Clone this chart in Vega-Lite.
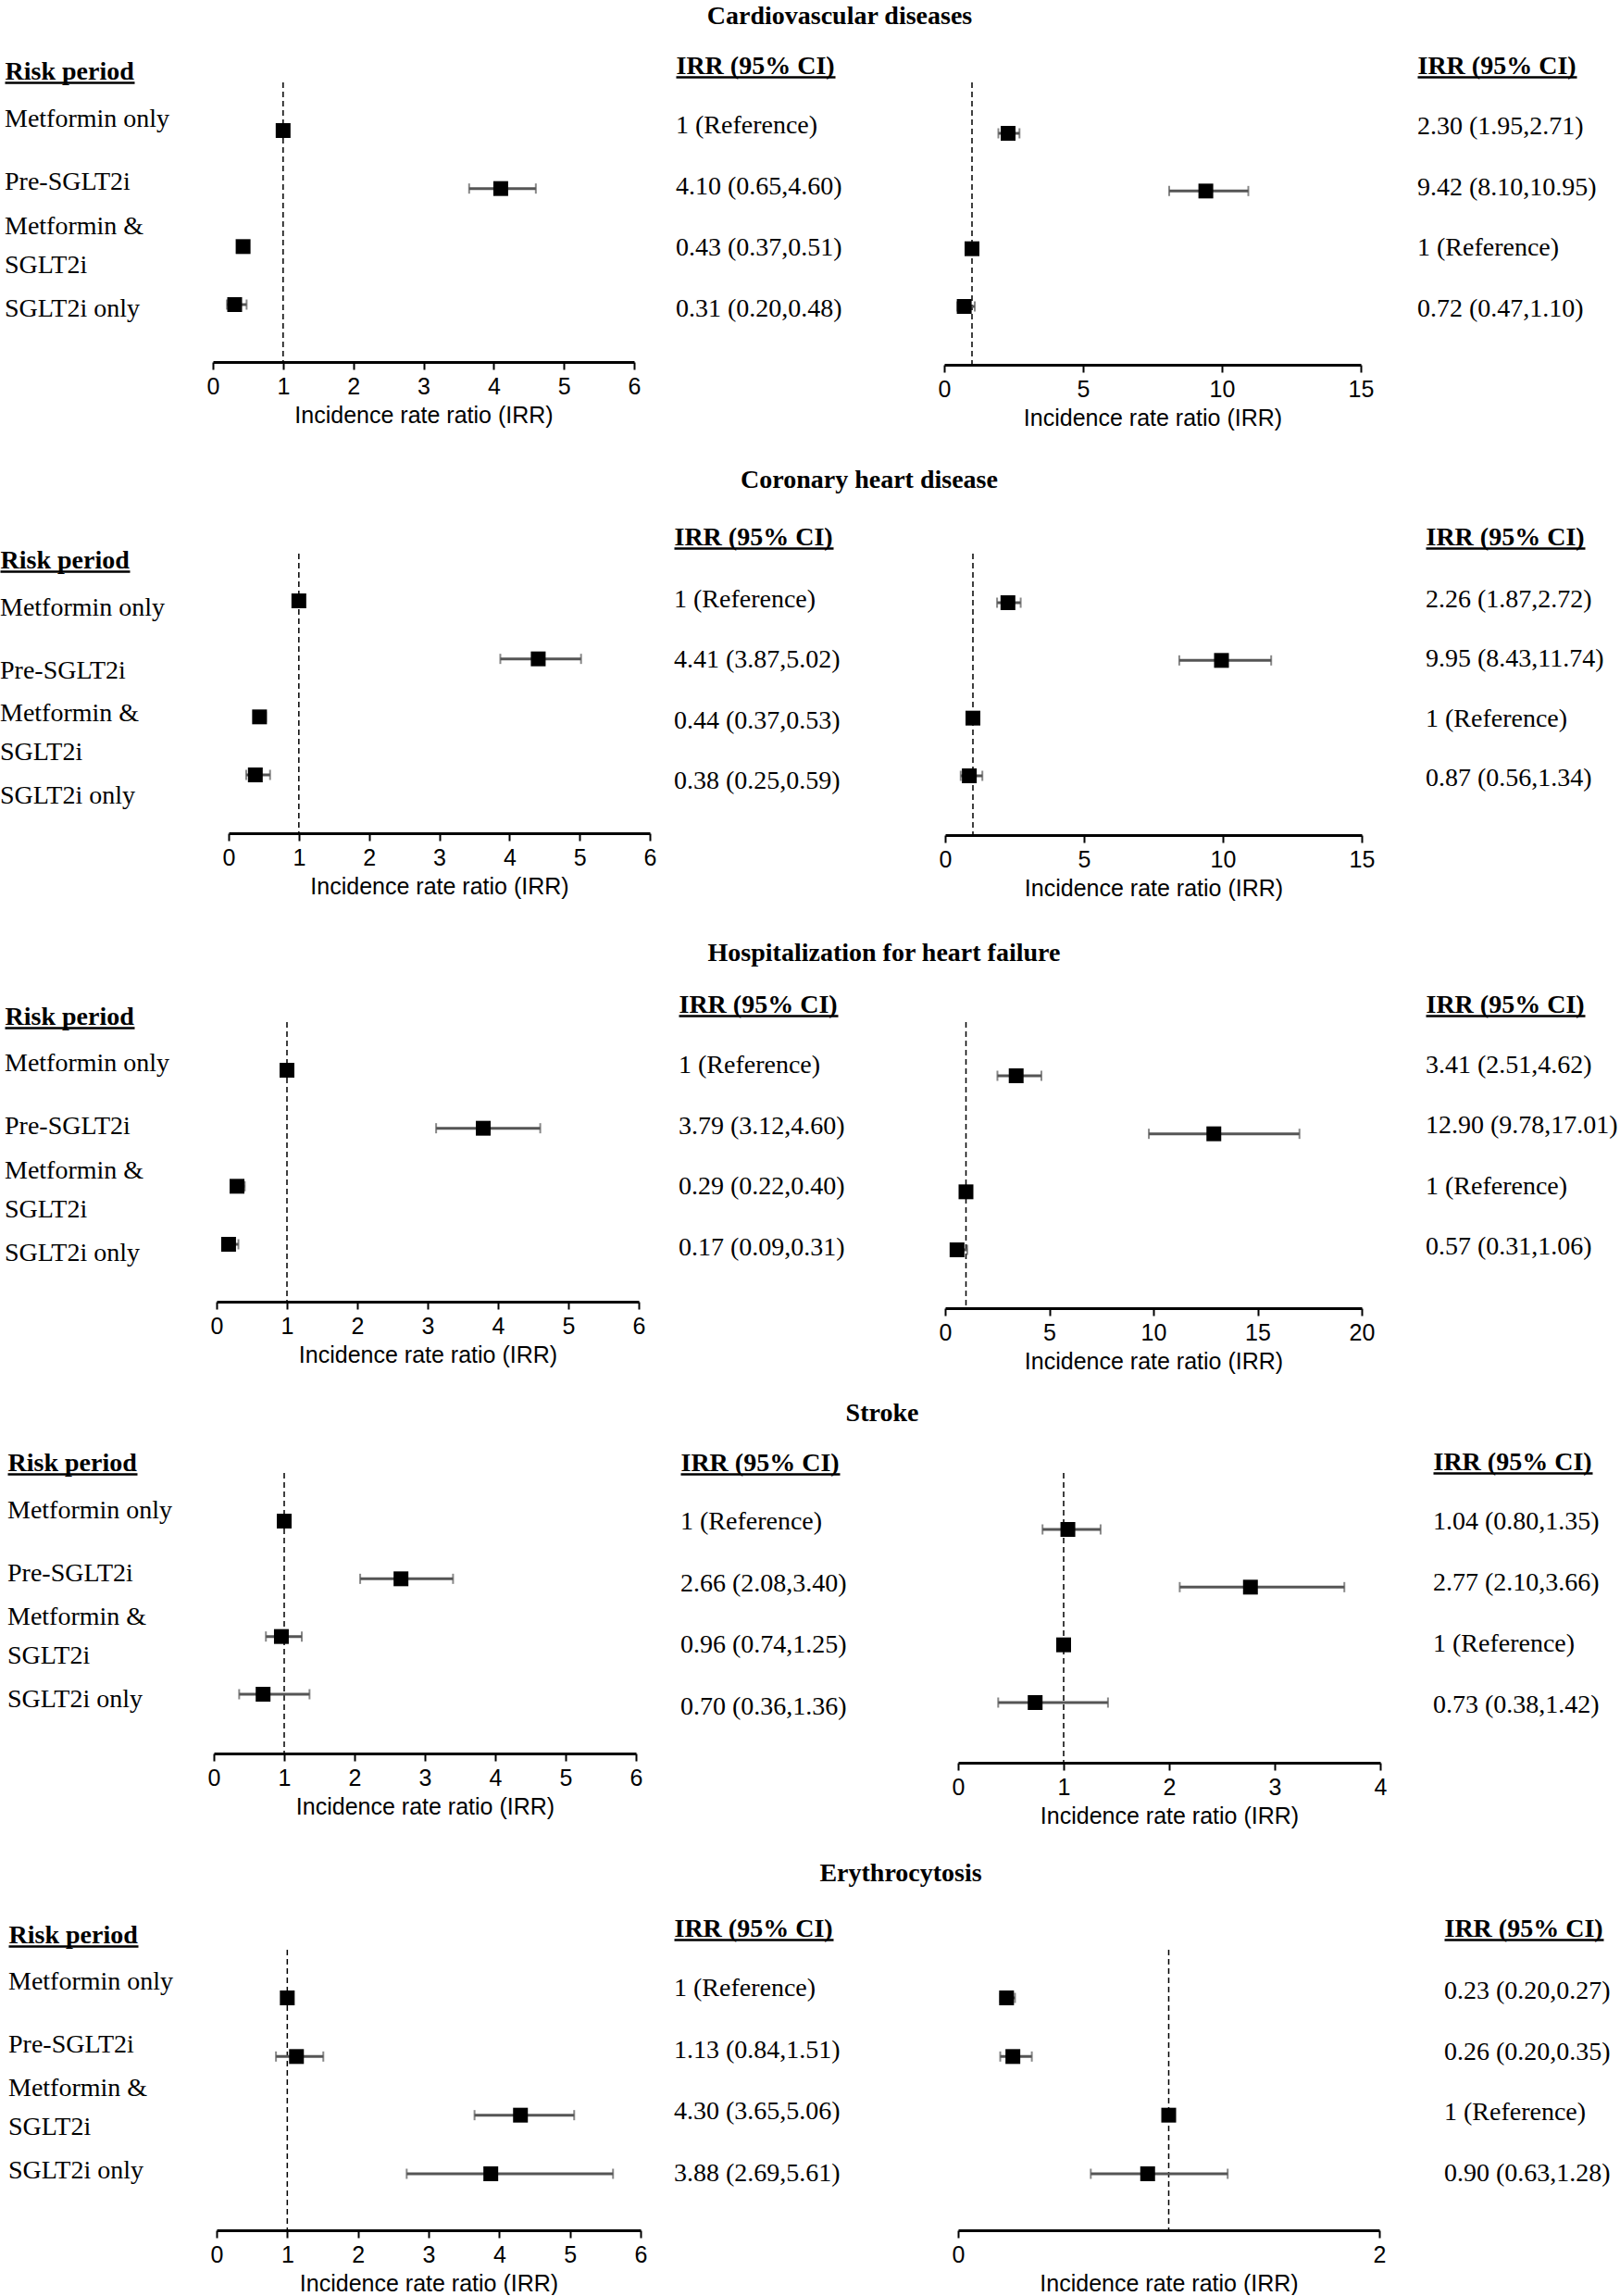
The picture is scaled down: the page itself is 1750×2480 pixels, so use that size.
{
  "$schema": "https://vega.github.io/schema/vega-lite/v6.json",
  "padding": {"left": 0, "right": 0, "top": 4, "bottom": 0},
  "background": "white",
  "bounds": "flush",
  "spacing": 0,
  "columns": 5,
  "resolve": {"scale": {"x": "independent", "y": "independent"}},
  "config": {
    "view": {"stroke": null},
    "axisBottom": {"domainColor": "black", "domainWidth": 3, "tickColor": "black", "tickWidth": 2, "tickSize": 8, "labelFont": "Liberation Sans", "labelFontSize": 25, "labelColor": "black", "labelPadding": 6, "labelFlush": false, "labelOverlap": false, "titleFont": "Liberation Sans", "titleFontSize": 25, "titleFontWeight": "normal", "titleColor": "black", "titlePadding": 6, "grid": false},
    "axisTop": {"domain": true, "domainColor": "black", "domainWidth": 2.5, "ticks": false, "labels": false, "grid": false, "titleAnchor": "start", "titleAlign": "left", "titleBaseline": "alphabetic", "titlePadding": 4, "titleFont": "Liberation Serif", "titleFontSize": 28, "titleFontWeight": "bold", "titleColor": "black"},
    "title": {"font": "Liberation Serif", "fontSize": 28, "fontWeight": "bold", "color": "black", "anchor": "start", "align": "center", "baseline": "middle", "frame": "group"},
    "text": {"font": "Liberation Serif", "fontSize": 28, "color": "black", "align": "left", "baseline": "middle", "lineBreak": "\n", "lineHeight": 42}
  },
  "datasets": {
    "periods": [
      {"period": "Metformin only", "display": "Metformin only"},
      {"period": "Pre-SGLT2i", "display": "Pre-SGLT2i"},
      {"period": "Metformin & SGLT2i", "display": "Metformin &\nSGLT2i"},
      {"period": "SGLT2i only", "display": "SGLT2i only"}
    ],
    "irr": [
      {"outcome": "Cardiovascular diseases", "panel": "A", "period": "Metformin only", "irr": 1, "lo": null, "hi": null, "label": "1 (Reference)"},
      {"outcome": "Cardiovascular diseases", "panel": "A", "period": "Pre-SGLT2i", "irr": 4.10, "lo": 3.65, "hi": 4.60, "label": "4.10 (0.65,4.60)"},
      {"outcome": "Cardiovascular diseases", "panel": "A", "period": "Metformin & SGLT2i", "irr": 0.43, "lo": 0.37, "hi": 0.51, "label": "0.43 (0.37,0.51)"},
      {"outcome": "Cardiovascular diseases", "panel": "A", "period": "SGLT2i only", "irr": 0.31, "lo": 0.20, "hi": 0.48, "label": "0.31 (0.20,0.48)"},
      {"outcome": "Cardiovascular diseases", "panel": "B", "period": "Metformin only", "irr": 2.30, "lo": 1.95, "hi": 2.71, "label": "2.30 (1.95,2.71)"},
      {"outcome": "Cardiovascular diseases", "panel": "B", "period": "Pre-SGLT2i", "irr": 9.42, "lo": 8.10, "hi": 10.95, "label": "9.42 (8.10,10.95)"},
      {"outcome": "Cardiovascular diseases", "panel": "B", "period": "Metformin & SGLT2i", "irr": 1, "lo": null, "hi": null, "label": "1 (Reference)"},
      {"outcome": "Cardiovascular diseases", "panel": "B", "period": "SGLT2i only", "irr": 0.72, "lo": 0.47, "hi": 1.10, "label": "0.72 (0.47,1.10)"},
      {"outcome": "Coronary heart disease", "panel": "A", "period": "Metformin only", "irr": 1, "lo": null, "hi": null, "label": "1 (Reference)"},
      {"outcome": "Coronary heart disease", "panel": "A", "period": "Pre-SGLT2i", "irr": 4.41, "lo": 3.87, "hi": 5.02, "label": "4.41 (3.87,5.02)"},
      {"outcome": "Coronary heart disease", "panel": "A", "period": "Metformin & SGLT2i", "irr": 0.44, "lo": 0.37, "hi": 0.53, "label": "0.44 (0.37,0.53)"},
      {"outcome": "Coronary heart disease", "panel": "A", "period": "SGLT2i only", "irr": 0.38, "lo": 0.25, "hi": 0.59, "label": "0.38 (0.25,0.59)"},
      {"outcome": "Coronary heart disease", "panel": "B", "period": "Metformin only", "irr": 2.26, "lo": 1.87, "hi": 2.72, "label": "2.26 (1.87,2.72)"},
      {"outcome": "Coronary heart disease", "panel": "B", "period": "Pre-SGLT2i", "irr": 9.95, "lo": 8.43, "hi": 11.74, "label": "9.95 (8.43,11.74)"},
      {"outcome": "Coronary heart disease", "panel": "B", "period": "Metformin & SGLT2i", "irr": 1, "lo": null, "hi": null, "label": "1 (Reference)"},
      {"outcome": "Coronary heart disease", "panel": "B", "period": "SGLT2i only", "irr": 0.87, "lo": 0.56, "hi": 1.34, "label": "0.87 (0.56,1.34)"},
      {"outcome": "Hospitalization for heart failure", "panel": "A", "period": "Metformin only", "irr": 1, "lo": null, "hi": null, "label": "1 (Reference)"},
      {"outcome": "Hospitalization for heart failure", "panel": "A", "period": "Pre-SGLT2i", "irr": 3.79, "lo": 3.12, "hi": 4.60, "label": "3.79 (3.12,4.60)"},
      {"outcome": "Hospitalization for heart failure", "panel": "A", "period": "Metformin & SGLT2i", "irr": 0.29, "lo": 0.22, "hi": 0.40, "label": "0.29 (0.22,0.40)"},
      {"outcome": "Hospitalization for heart failure", "panel": "A", "period": "SGLT2i only", "irr": 0.17, "lo": 0.09, "hi": 0.31, "label": "0.17 (0.09,0.31)"},
      {"outcome": "Hospitalization for heart failure", "panel": "B", "period": "Metformin only", "irr": 3.41, "lo": 2.51, "hi": 4.62, "label": "3.41 (2.51,4.62)"},
      {"outcome": "Hospitalization for heart failure", "panel": "B", "period": "Pre-SGLT2i", "irr": 12.90, "lo": 9.78, "hi": 17.01, "label": "12.90 (9.78,17.01)"},
      {"outcome": "Hospitalization for heart failure", "panel": "B", "period": "Metformin & SGLT2i", "irr": 1, "lo": null, "hi": null, "label": "1 (Reference)"},
      {"outcome": "Hospitalization for heart failure", "panel": "B", "period": "SGLT2i only", "irr": 0.57, "lo": 0.31, "hi": 1.06, "label": "0.57 (0.31,1.06)"},
      {"outcome": "Stroke", "panel": "A", "period": "Metformin only", "irr": 1, "lo": null, "hi": null, "label": "1 (Reference)"},
      {"outcome": "Stroke", "panel": "A", "period": "Pre-SGLT2i", "irr": 2.66, "lo": 2.08, "hi": 3.40, "label": "2.66 (2.08,3.40)"},
      {"outcome": "Stroke", "panel": "A", "period": "Metformin & SGLT2i", "irr": 0.96, "lo": 0.74, "hi": 1.25, "label": "0.96 (0.74,1.25)"},
      {"outcome": "Stroke", "panel": "A", "period": "SGLT2i only", "irr": 0.70, "lo": 0.36, "hi": 1.36, "label": "0.70 (0.36,1.36)"},
      {"outcome": "Stroke", "panel": "B", "period": "Metformin only", "irr": 1.04, "lo": 0.80, "hi": 1.35, "label": "1.04 (0.80,1.35)"},
      {"outcome": "Stroke", "panel": "B", "period": "Pre-SGLT2i", "irr": 2.77, "lo": 2.10, "hi": 3.66, "label": "2.77 (2.10,3.66)"},
      {"outcome": "Stroke", "panel": "B", "period": "Metformin & SGLT2i", "irr": 1, "lo": null, "hi": null, "label": "1 (Reference)"},
      {"outcome": "Stroke", "panel": "B", "period": "SGLT2i only", "irr": 0.73, "lo": 0.38, "hi": 1.42, "label": "0.73 (0.38,1.42)"},
      {"outcome": "Erythrocytosis", "panel": "A", "period": "Metformin only", "irr": 1, "lo": null, "hi": null, "label": "1 (Reference)"},
      {"outcome": "Erythrocytosis", "panel": "A", "period": "Pre-SGLT2i", "irr": 1.13, "lo": 0.84, "hi": 1.51, "label": "1.13 (0.84,1.51)"},
      {"outcome": "Erythrocytosis", "panel": "A", "period": "Metformin & SGLT2i", "irr": 4.30, "lo": 3.65, "hi": 5.06, "label": "4.30 (3.65,5.06)"},
      {"outcome": "Erythrocytosis", "panel": "A", "period": "SGLT2i only", "irr": 3.88, "lo": 2.69, "hi": 5.61, "label": "3.88 (2.69,5.61)"},
      {"outcome": "Erythrocytosis", "panel": "B", "period": "Metformin only", "irr": 0.23, "lo": 0.20, "hi": 0.27, "label": "0.23 (0.20,0.27)"},
      {"outcome": "Erythrocytosis", "panel": "B", "period": "Pre-SGLT2i", "irr": 0.26, "lo": 0.20, "hi": 0.35, "label": "0.26 (0.20,0.35)"},
      {"outcome": "Erythrocytosis", "panel": "B", "period": "Metformin & SGLT2i", "irr": 1, "lo": null, "hi": null, "label": "1 (Reference)"},
      {"outcome": "Erythrocytosis", "panel": "B", "period": "SGLT2i only", "irr": 0.90, "lo": 0.63, "hi": 1.28, "label": "0.90 (0.63,1.28)"}
    ]
  },
  "concat": [
    {
      "width": 228, "height": 509,
      "data": {"name": "periods"},
      "encoding": {
        "x": {"datum": 0, "type": "quantitative", "scale": {"domain": [0, 1], "range": [5, 145]}, "axis": {"orient": "top", "title": "Risk period", "offset": 0}},
        "y": {"field": "period", "type": "nominal", "scale": {"type": "point", "domain": ["Metformin only", "Pre-SGLT2i", "Metformin & SGLT2i", "SGLT2i only"], "range": [40, 245], "padding": 0}, "axis": null},
        "text": {"field": "display"}
      },
      "layer": [
        {"transform": [{"filter": "datum.period != 'Metformin & SGLT2i'"}], "mark": {"type": "text"}},
        {"transform": [{"filter": "datum.period == 'Metformin & SGLT2i'"}], "mark": {"type": "text", "dy": -21}}
      ]
    },
    {
      "width": 480, "height": 302,
      "data": {"name": "irr"},
      "transform": [{"filter": "datum.outcome == 'Cardiovascular diseases' && datum.panel == 'A'"}],
      "encoding": {"y": {"field": "period", "type": "nominal", "scale": {"type": "point", "domain": ["Metformin only", "Pre-SGLT2i", "Metformin & SGLT2i", "SGLT2i only"], "range": [52, 240], "padding": 0}, "axis": null}},
      "layer": [
        {"data": {"values": [{}]}, "mark": {"type": "rule", "color": "black", "strokeWidth": 1.5, "strokeDash": [6, 4]}, "encoding": {"x": {"datum": 1, "type": "quantitative", "scale": {"domain": [0, 6], "range": [2, 457], "nice": false, "zero": false}, "axis": {"orient": "bottom", "title": "Incidence rate ratio (IRR)", "values": [0, 1, 2, 3, 4, 5, 6], "format": "d"}}, "y": null}},
        {"transform": [{"filter": "isValid(datum.lo)"}], "mark": {"type": "rule", "color": "#555555", "strokeWidth": 3}, "encoding": {"x": {"field": "lo", "type": "quantitative", "title": "Incidence rate ratio (IRR)"}, "x2": {"field": "hi"}}},
        {"transform": [{"filter": "isValid(datum.lo)"}], "mark": {"type": "tick", "color": "#555555", "thickness": 2, "size": 11}, "encoding": {"x": {"field": "lo", "type": "quantitative", "title": "Incidence rate ratio (IRR)"}}},
        {"transform": [{"filter": "isValid(datum.hi)"}], "mark": {"type": "tick", "color": "#555555", "thickness": 2, "size": 11}, "encoding": {"x": {"field": "hi", "type": "quantitative", "title": "Incidence rate ratio (IRR)"}}},
        {"mark": {"type": "point", "shape": "square", "size": 256, "filled": true, "color": "black", "opacity": 1}, "encoding": {"x": {"field": "irr", "type": "quantitative", "title": "Incidence rate ratio (IRR)"}}}
      ]
    },
    {
      "width": 312, "height": 509,
      "data": {"name": "irr"},
      "transform": [{"filter": "datum.outcome == 'Cardiovascular diseases' && datum.panel == 'A'"}],
      "mark": {"type": "text"},
      "encoding": {
        "x": {"datum": 0, "type": "quantitative", "scale": {"domain": [0, 1], "range": [22, 194]}, "axis": {"orient": "top", "title": "IRR (95% CI)", "offset": 6}},
        "y": {"field": "period", "type": "nominal", "scale": {"type": "point", "domain": ["Metformin only", "Pre-SGLT2i", "Metformin & SGLT2i", "SGLT2i only"], "range": [47, 245], "padding": 0}, "axis": null},
        "text": {"field": "label"}
      }
    },
    {
      "width": 510, "height": 305,
      "title": {"text": "Cardiovascular diseases", "anchor": "start", "align": "center", "baseline": "middle", "frame": "group", "dx": -113, "offset": 42},
      "data": {"name": "irr"},
      "transform": [{"filter": "datum.outcome == 'Cardiovascular diseases' && datum.panel == 'B'"}],
      "encoding": {"y": {"field": "period", "type": "nominal", "scale": {"type": "point", "domain": ["Metformin only", "Pre-SGLT2i", "Metformin & SGLT2i", "SGLT2i only"], "range": [55, 242], "padding": 0}, "axis": null}},
      "layer": [
        {"data": {"values": [{}]}, "mark": {"type": "rule", "color": "black", "strokeWidth": 1.5, "strokeDash": [6, 4]}, "encoding": {"x": {"datum": 1, "type": "quantitative", "scale": {"domain": [0, 15], "range": [0, 450], "nice": false, "zero": false}, "axis": {"orient": "bottom", "title": "Incidence rate ratio (IRR)", "values": [0, 5, 10, 15], "format": "d"}}, "y": null}},
        {"transform": [{"filter": "isValid(datum.lo)"}], "mark": {"type": "rule", "color": "#555555", "strokeWidth": 3}, "encoding": {"x": {"field": "lo", "type": "quantitative", "title": "Incidence rate ratio (IRR)"}, "x2": {"field": "hi"}}},
        {"transform": [{"filter": "isValid(datum.lo)"}], "mark": {"type": "tick", "color": "#555555", "thickness": 2, "size": 11}, "encoding": {"x": {"field": "lo", "type": "quantitative", "title": "Incidence rate ratio (IRR)"}}},
        {"transform": [{"filter": "isValid(datum.hi)"}], "mark": {"type": "tick", "color": "#555555", "thickness": 2, "size": 11}, "encoding": {"x": {"field": "hi", "type": "quantitative", "title": "Incidence rate ratio (IRR)"}}},
        {"mark": {"type": "point", "shape": "square", "size": 256, "filled": true, "color": "black", "opacity": 1}, "encoding": {"x": {"field": "irr", "type": "quantitative", "title": "Incidence rate ratio (IRR)"}}}
      ]
    },
    {
      "width": 220, "height": 509,
      "data": {"name": "irr"},
      "transform": [{"filter": "datum.outcome == 'Cardiovascular diseases' && datum.panel == 'B'"}],
      "mark": {"type": "text"},
      "encoding": {
        "x": {"datum": 0, "type": "quantitative", "scale": {"domain": [0, 1], "range": [1, 173]}, "axis": {"orient": "top", "title": "IRR (95% CI)", "offset": 6}},
        "y": {"field": "period", "type": "nominal", "scale": {"type": "point", "domain": ["Metformin only", "Pre-SGLT2i", "Metformin & SGLT2i", "SGLT2i only"], "range": [48, 245], "padding": 0}, "axis": null},
        "text": {"field": "label"}
      }
    },

    {
      "width": 228, "height": 506,
      "data": {"name": "periods"},
      "encoding": {
        "x": {"datum": 0, "type": "quantitative", "scale": {"domain": [0, 1], "range": [0, 140]}, "axis": {"orient": "top", "title": "Risk period", "offset": -19}},
        "y": {"field": "period", "type": "nominal", "scale": {"type": "point", "domain": ["Metformin only", "Pre-SGLT2i", "Metformin & SGLT2i", "SGLT2i only"], "range": [59, 262], "padding": 0}, "axis": null},
        "text": {"field": "display"}
      },
      "layer": [
        {"transform": [{"filter": "datum.period != 'Metformin & SGLT2i'"}], "mark": {"type": "text"}},
        {"transform": [{"filter": "datum.period == 'Metformin & SGLT2i'"}], "mark": {"type": "text", "dy": -21}}
      ]
    },
    {
      "width": 480, "height": 302,
      "data": {"name": "irr"},
      "transform": [{"filter": "datum.outcome == 'Coronary heart disease' && datum.panel == 'A'"}],
      "encoding": {"y": {"field": "period", "type": "nominal", "scale": {"type": "point", "domain": ["Metformin only", "Pre-SGLT2i", "Metformin & SGLT2i", "SGLT2i only"], "range": [51, 239], "padding": 0}, "axis": null}},
      "layer": [
        {"data": {"values": [{}]}, "mark": {"type": "rule", "color": "black", "strokeWidth": 1.5, "strokeDash": [6, 4]}, "encoding": {"x": {"datum": 1, "type": "quantitative", "scale": {"domain": [0, 6], "range": [19, 474], "nice": false, "zero": false}, "axis": {"orient": "bottom", "title": "Incidence rate ratio (IRR)", "values": [0, 1, 2, 3, 4, 5, 6], "format": "d"}}, "y": null}},
        {"transform": [{"filter": "isValid(datum.lo)"}], "mark": {"type": "rule", "color": "#555555", "strokeWidth": 3}, "encoding": {"x": {"field": "lo", "type": "quantitative", "title": "Incidence rate ratio (IRR)"}, "x2": {"field": "hi"}}},
        {"transform": [{"filter": "isValid(datum.lo)"}], "mark": {"type": "tick", "color": "#555555", "thickness": 2, "size": 11}, "encoding": {"x": {"field": "lo", "type": "quantitative", "title": "Incidence rate ratio (IRR)"}}},
        {"transform": [{"filter": "isValid(datum.hi)"}], "mark": {"type": "tick", "color": "#555555", "thickness": 2, "size": 11}, "encoding": {"x": {"field": "hi", "type": "quantitative", "title": "Incidence rate ratio (IRR)"}}},
        {"mark": {"type": "point", "shape": "square", "size": 256, "filled": true, "color": "black", "opacity": 1}, "encoding": {"x": {"field": "irr", "type": "quantitative", "title": "Incidence rate ratio (IRR)"}}}
      ]
    },
    {
      "width": 312, "height": 506,
      "data": {"name": "irr"},
      "transform": [{"filter": "datum.outcome == 'Coronary heart disease' && datum.panel == 'A'"}],
      "mark": {"type": "text"},
      "encoding": {
        "x": {"datum": 0, "type": "quantitative", "scale": {"domain": [0, 1], "range": [20, 192]}, "axis": {"orient": "top", "title": "IRR (95% CI)", "offset": 6}},
        "y": {"field": "period", "type": "nominal", "scale": {"type": "point", "domain": ["Metformin only", "Pre-SGLT2i", "Metformin & SGLT2i", "SGLT2i only"], "range": [50, 246], "padding": 0}, "axis": null},
        "text": {"field": "label"}
      }
    },
    {
      "width": 510, "height": 304,
      "title": {"text": "Coronary heart disease", "anchor": "start", "align": "center", "baseline": "middle", "frame": "group", "dx": -81, "offset": 50},
      "data": {"name": "irr"},
      "transform": [{"filter": "datum.outcome == 'Coronary heart disease' && datum.panel == 'B'"}],
      "encoding": {"y": {"field": "period", "type": "nominal", "scale": {"type": "point", "domain": ["Metformin only", "Pre-SGLT2i", "Metformin & SGLT2i", "SGLT2i only"], "range": [53, 240], "padding": 0}, "axis": null}},
      "layer": [
        {"data": {"values": [{}]}, "mark": {"type": "rule", "color": "black", "strokeWidth": 1.5, "strokeDash": [6, 4]}, "encoding": {"x": {"datum": 1, "type": "quantitative", "scale": {"domain": [0, 15], "range": [1, 451], "nice": false, "zero": false}, "axis": {"orient": "bottom", "title": "Incidence rate ratio (IRR)", "values": [0, 5, 10, 15], "format": "d"}}, "y": null}},
        {"transform": [{"filter": "isValid(datum.lo)"}], "mark": {"type": "rule", "color": "#555555", "strokeWidth": 3}, "encoding": {"x": {"field": "lo", "type": "quantitative", "title": "Incidence rate ratio (IRR)"}, "x2": {"field": "hi"}}},
        {"transform": [{"filter": "isValid(datum.lo)"}], "mark": {"type": "tick", "color": "#555555", "thickness": 2, "size": 11}, "encoding": {"x": {"field": "lo", "type": "quantitative", "title": "Incidence rate ratio (IRR)"}}},
        {"transform": [{"filter": "isValid(datum.hi)"}], "mark": {"type": "tick", "color": "#555555", "thickness": 2, "size": 11}, "encoding": {"x": {"field": "hi", "type": "quantitative", "title": "Incidence rate ratio (IRR)"}}},
        {"mark": {"type": "point", "shape": "square", "size": 256, "filled": true, "color": "black", "opacity": 1}, "encoding": {"x": {"field": "irr", "type": "quantitative", "title": "Incidence rate ratio (IRR)"}}}
      ]
    },
    {
      "width": 220, "height": 506,
      "data": {"name": "irr"},
      "transform": [{"filter": "datum.outcome == 'Coronary heart disease' && datum.panel == 'B'"}],
      "mark": {"type": "text"},
      "encoding": {
        "x": {"datum": 0, "type": "quantitative", "scale": {"domain": [0, 1], "range": [10, 182]}, "axis": {"orient": "top", "title": "IRR (95% CI)", "offset": 6}},
        "y": {"field": "period", "type": "nominal", "scale": {"type": "point", "domain": ["Metformin only", "Pre-SGLT2i", "Metformin & SGLT2i", "SGLT2i only"], "range": [50, 243], "padding": 0}, "axis": null},
        "text": {"field": "label"}
      }
    },

    {
      "width": 228, "height": 487,
      "data": {"name": "periods"},
      "encoding": {
        "x": {"datum": 0, "type": "quantitative", "scale": {"domain": [0, 1], "range": [5, 145]}, "axis": {"orient": "top", "title": "Risk period", "offset": -6}},
        "y": {"field": "period", "type": "nominal", "scale": {"type": "point", "domain": ["Metformin only", "Pre-SGLT2i", "Metformin & SGLT2i", "SGLT2i only"], "range": [45, 250], "padding": 0}, "axis": null},
        "text": {"field": "display"}
      },
      "layer": [
        {"transform": [{"filter": "datum.period != 'Metformin & SGLT2i'"}], "mark": {"type": "text"}},
        {"transform": [{"filter": "datum.period == 'Metformin & SGLT2i'"}], "mark": {"type": "text", "dy": -21}}
      ]
    },
    {
      "width": 480, "height": 302,
      "data": {"name": "irr"},
      "transform": [{"filter": "datum.outcome == 'Hospitalization for heart failure' && datum.panel == 'A'"}],
      "encoding": {"y": {"field": "period", "type": "nominal", "scale": {"type": "point", "domain": ["Metformin only", "Pre-SGLT2i", "Metformin & SGLT2i", "SGLT2i only"], "range": [52, 240], "padding": 0}, "axis": null}},
      "layer": [
        {"data": {"values": [{}]}, "mark": {"type": "rule", "color": "black", "strokeWidth": 1.5, "strokeDash": [6, 4]}, "encoding": {"x": {"datum": 1, "type": "quantitative", "scale": {"domain": [0, 6], "range": [6, 462], "nice": false, "zero": false}, "axis": {"orient": "bottom", "title": "Incidence rate ratio (IRR)", "values": [0, 1, 2, 3, 4, 5, 6], "format": "d"}}, "y": null}},
        {"transform": [{"filter": "isValid(datum.lo)"}], "mark": {"type": "rule", "color": "#555555", "strokeWidth": 3}, "encoding": {"x": {"field": "lo", "type": "quantitative", "title": "Incidence rate ratio (IRR)"}, "x2": {"field": "hi"}}},
        {"transform": [{"filter": "isValid(datum.lo)"}], "mark": {"type": "tick", "color": "#555555", "thickness": 2, "size": 11}, "encoding": {"x": {"field": "lo", "type": "quantitative", "title": "Incidence rate ratio (IRR)"}}},
        {"transform": [{"filter": "isValid(datum.hi)"}], "mark": {"type": "tick", "color": "#555555", "thickness": 2, "size": 11}, "encoding": {"x": {"field": "hi", "type": "quantitative", "title": "Incidence rate ratio (IRR)"}}},
        {"mark": {"type": "point", "shape": "square", "size": 256, "filled": true, "color": "black", "opacity": 1}, "encoding": {"x": {"field": "irr", "type": "quantitative", "title": "Incidence rate ratio (IRR)"}}}
      ]
    },
    {
      "width": 312, "height": 487,
      "data": {"name": "irr"},
      "transform": [{"filter": "datum.outcome == 'Hospitalization for heart failure' && datum.panel == 'A'"}],
      "mark": {"type": "text"},
      "encoding": {
        "x": {"datum": 0, "type": "quantitative", "scale": {"domain": [0, 1], "range": [25, 197]}, "axis": {"orient": "top", "title": "IRR (95% CI)", "offset": 7}},
        "y": {"field": "period", "type": "nominal", "scale": {"type": "point", "domain": ["Metformin only", "Pre-SGLT2i", "Metformin & SGLT2i", "SGLT2i only"], "range": [47, 244], "padding": 0}, "axis": null},
        "text": {"field": "label"}
      }
    },
    {
      "width": 510, "height": 309,
      "title": {"text": "Hospitalization for heart failure", "anchor": "start", "align": "center", "baseline": "middle", "frame": "group", "dx": -65, "offset": 45},
      "data": {"name": "irr"},
      "transform": [{"filter": "datum.outcome == 'Hospitalization for heart failure' && datum.panel == 'B'"}],
      "encoding": {"y": {"field": "period", "type": "nominal", "scale": {"type": "point", "domain": ["Metformin only", "Pre-SGLT2i", "Metformin & SGLT2i", "SGLT2i only"], "range": [58, 246], "padding": 0}, "axis": null}},
      "layer": [
        {"data": {"values": [{}]}, "mark": {"type": "rule", "color": "black", "strokeWidth": 1.5, "strokeDash": [6, 4]}, "encoding": {"x": {"datum": 1, "type": "quantitative", "scale": {"domain": [0, 20], "range": [1, 451], "nice": false, "zero": false}, "axis": {"orient": "bottom", "title": "Incidence rate ratio (IRR)", "values": [0, 5, 10, 15, 20], "format": "d"}}, "y": null}},
        {"transform": [{"filter": "isValid(datum.lo)"}], "mark": {"type": "rule", "color": "#555555", "strokeWidth": 3}, "encoding": {"x": {"field": "lo", "type": "quantitative", "title": "Incidence rate ratio (IRR)"}, "x2": {"field": "hi"}}},
        {"transform": [{"filter": "isValid(datum.lo)"}], "mark": {"type": "tick", "color": "#555555", "thickness": 2, "size": 11}, "encoding": {"x": {"field": "lo", "type": "quantitative", "title": "Incidence rate ratio (IRR)"}}},
        {"transform": [{"filter": "isValid(datum.hi)"}], "mark": {"type": "tick", "color": "#555555", "thickness": 2, "size": 11}, "encoding": {"x": {"field": "hi", "type": "quantitative", "title": "Incidence rate ratio (IRR)"}}},
        {"mark": {"type": "point", "shape": "square", "size": 256, "filled": true, "color": "black", "opacity": 1}, "encoding": {"x": {"field": "irr", "type": "quantitative", "title": "Incidence rate ratio (IRR)"}}}
      ]
    },
    {
      "width": 220, "height": 487,
      "data": {"name": "irr"},
      "transform": [{"filter": "datum.outcome == 'Hospitalization for heart failure' && datum.panel == 'B'"}],
      "mark": {"type": "text"},
      "encoding": {
        "x": {"datum": 0, "type": "quantitative", "scale": {"domain": [0, 1], "range": [10, 182]}, "axis": {"orient": "top", "title": "IRR (95% CI)", "offset": 7}},
        "y": {"field": "period", "type": "nominal", "scale": {"type": "point", "domain": ["Metformin only", "Pre-SGLT2i", "Metformin & SGLT2i", "SGLT2i only"], "range": [47, 243], "padding": 0}, "axis": null},
        "text": {"field": "label"}
      }
    },

    {
      "width": 228, "height": 515,
      "data": {"name": "periods"},
      "encoding": {
        "x": {"datum": 0, "type": "quantitative", "scale": {"domain": [0, 1], "range": [8, 148]}, "axis": {"orient": "top", "title": "Risk period", "offset": -1}},
        "y": {"field": "period", "type": "nominal", "scale": {"type": "point", "domain": ["Metformin only", "Pre-SGLT2i", "Metformin & SGLT2i", "SGLT2i only"], "range": [41, 245], "padding": 0}, "axis": null},
        "text": {"field": "display"}
      },
      "layer": [
        {"transform": [{"filter": "datum.period != 'Metformin & SGLT2i'"}], "mark": {"type": "text"}},
        {"transform": [{"filter": "datum.period == 'Metformin & SGLT2i'"}], "mark": {"type": "text", "dy": -21}}
      ]
    },
    {
      "width": 480, "height": 303,
      "data": {"name": "irr"},
      "transform": [{"filter": "datum.outcome == 'Stroke' && datum.panel == 'A'"}],
      "encoding": {"y": {"field": "period", "type": "nominal", "scale": {"type": "point", "domain": ["Metformin only", "Pre-SGLT2i", "Metformin & SGLT2i", "SGLT2i only"], "range": [52, 239], "padding": 0}, "axis": null}},
      "layer": [
        {"data": {"values": [{}]}, "mark": {"type": "rule", "color": "black", "strokeWidth": 1.5, "strokeDash": [6, 4]}, "encoding": {"x": {"datum": 1, "type": "quantitative", "scale": {"domain": [0, 6], "range": [3, 459], "nice": false, "zero": false}, "axis": {"orient": "bottom", "title": "Incidence rate ratio (IRR)", "values": [0, 1, 2, 3, 4, 5, 6], "format": "d"}}, "y": null}},
        {"transform": [{"filter": "isValid(datum.lo)"}], "mark": {"type": "rule", "color": "#555555", "strokeWidth": 3}, "encoding": {"x": {"field": "lo", "type": "quantitative", "title": "Incidence rate ratio (IRR)"}, "x2": {"field": "hi"}}},
        {"transform": [{"filter": "isValid(datum.lo)"}], "mark": {"type": "tick", "color": "#555555", "thickness": 2, "size": 11}, "encoding": {"x": {"field": "lo", "type": "quantitative", "title": "Incidence rate ratio (IRR)"}}},
        {"transform": [{"filter": "isValid(datum.hi)"}], "mark": {"type": "tick", "color": "#555555", "thickness": 2, "size": 11}, "encoding": {"x": {"field": "hi", "type": "quantitative", "title": "Incidence rate ratio (IRR)"}}},
        {"mark": {"type": "point", "shape": "square", "size": 256, "filled": true, "color": "black", "opacity": 1}, "encoding": {"x": {"field": "irr", "type": "quantitative", "title": "Incidence rate ratio (IRR)"}}}
      ]
    },
    {
      "width": 312, "height": 515,
      "data": {"name": "irr"},
      "transform": [{"filter": "datum.outcome == 'Stroke' && datum.panel == 'A'"}],
      "mark": {"type": "text"},
      "encoding": {
        "x": {"datum": 0, "type": "quantitative", "scale": {"domain": [0, 1], "range": [27, 199]}, "axis": {"orient": "top", "title": "IRR (95% CI)", "offset": -1}},
        "y": {"field": "period", "type": "nominal", "scale": {"type": "point", "domain": ["Metformin only", "Pre-SGLT2i", "Metformin & SGLT2i", "SGLT2i only"], "range": [53, 253], "padding": 0}, "axis": null},
        "text": {"field": "label"}
      }
    },
    {
      "width": 510, "height": 313,
      "title": {"text": "Stroke", "anchor": "start", "align": "center", "baseline": "middle", "frame": "group", "dx": -67, "offset": 35},
      "data": {"name": "irr"},
      "transform": [{"filter": "datum.outcome == 'Stroke' && datum.panel == 'B'"}],
      "encoding": {"y": {"field": "period", "type": "nominal", "scale": {"type": "point", "domain": ["Metformin only", "Pre-SGLT2i", "Metformin & SGLT2i", "SGLT2i only"], "range": [61, 248], "padding": 0}, "axis": null}},
      "layer": [
        {"data": {"values": [{}]}, "mark": {"type": "rule", "color": "black", "strokeWidth": 1.5, "strokeDash": [6, 4]}, "encoding": {"x": {"datum": 1, "type": "quantitative", "scale": {"domain": [0, 4], "range": [15, 471], "nice": false, "zero": false}, "axis": {"orient": "bottom", "title": "Incidence rate ratio (IRR)", "values": [0, 1, 2, 3, 4], "format": "d"}}, "y": null}},
        {"transform": [{"filter": "isValid(datum.lo)"}], "mark": {"type": "rule", "color": "#555555", "strokeWidth": 3}, "encoding": {"x": {"field": "lo", "type": "quantitative", "title": "Incidence rate ratio (IRR)"}, "x2": {"field": "hi"}}},
        {"transform": [{"filter": "isValid(datum.lo)"}], "mark": {"type": "tick", "color": "#555555", "thickness": 2, "size": 11}, "encoding": {"x": {"field": "lo", "type": "quantitative", "title": "Incidence rate ratio (IRR)"}}},
        {"transform": [{"filter": "isValid(datum.hi)"}], "mark": {"type": "tick", "color": "#555555", "thickness": 2, "size": 11}, "encoding": {"x": {"field": "hi", "type": "quantitative", "title": "Incidence rate ratio (IRR)"}}},
        {"mark": {"type": "point", "shape": "square", "size": 256, "filled": true, "color": "black", "opacity": 1}, "encoding": {"x": {"field": "irr", "type": "quantitative", "title": "Incidence rate ratio (IRR)"}}}
      ]
    },
    {
      "width": 220, "height": 515,
      "data": {"name": "irr"},
      "transform": [{"filter": "datum.outcome == 'Stroke' && datum.panel == 'B'"}],
      "mark": {"type": "text"},
      "encoding": {
        "x": {"datum": 0, "type": "quantitative", "scale": {"domain": [0, 1], "range": [18, 190]}, "axis": {"orient": "top", "title": "IRR (95% CI)", "offset": 0}},
        "y": {"field": "period", "type": "nominal", "scale": {"type": "point", "domain": ["Metformin only", "Pre-SGLT2i", "Metformin & SGLT2i", "SGLT2i only"], "range": [53, 251], "padding": 0}, "axis": null},
        "text": {"field": "label"}
      }
    },

    {
      "width": 228, "height": 303,
      "data": {"name": "periods"},
      "encoding": {
        "x": {"datum": 0, "type": "quantitative", "scale": {"domain": [0, 1], "range": [9, 149]}, "axis": {"orient": "top", "title": "Risk period", "offset": 4}},
        "y": {"field": "period", "type": "nominal", "scale": {"type": "point", "domain": ["Metformin only", "Pre-SGLT2i", "Metformin & SGLT2i", "SGLT2i only"], "range": [35, 239], "padding": 0}, "axis": null},
        "text": {"field": "display"}
      },
      "layer": [
        {"transform": [{"filter": "datum.period != 'Metformin & SGLT2i'"}], "mark": {"type": "text"}},
        {"transform": [{"filter": "datum.period == 'Metformin & SGLT2i'"}], "mark": {"type": "text", "dy": -21}}
      ]
    },
    {
      "width": 480, "height": 303,
      "data": {"name": "irr"},
      "transform": [{"filter": "datum.outcome == 'Erythrocytosis' && datum.panel == 'A'"}],
      "encoding": {"y": {"field": "period", "type": "nominal", "scale": {"type": "point", "domain": ["Metformin only", "Pre-SGLT2i", "Metformin & SGLT2i", "SGLT2i only"], "range": [52, 242], "padding": 0}, "axis": null}},
      "layer": [
        {"data": {"values": [{}]}, "mark": {"type": "rule", "color": "black", "strokeWidth": 1.5, "strokeDash": [6, 4]}, "encoding": {"x": {"datum": 1, "type": "quantitative", "scale": {"domain": [0, 6], "range": [6, 464], "nice": false, "zero": false}, "axis": {"orient": "bottom", "title": "Incidence rate ratio (IRR)", "values": [0, 1, 2, 3, 4, 5, 6], "format": "d"}}, "y": null}},
        {"transform": [{"filter": "isValid(datum.lo)"}], "mark": {"type": "rule", "color": "#555555", "strokeWidth": 3}, "encoding": {"x": {"field": "lo", "type": "quantitative", "title": "Incidence rate ratio (IRR)"}, "x2": {"field": "hi"}}},
        {"transform": [{"filter": "isValid(datum.lo)"}], "mark": {"type": "tick", "color": "#555555", "thickness": 2, "size": 11}, "encoding": {"x": {"field": "lo", "type": "quantitative", "title": "Incidence rate ratio (IRR)"}}},
        {"transform": [{"filter": "isValid(datum.hi)"}], "mark": {"type": "tick", "color": "#555555", "thickness": 2, "size": 11}, "encoding": {"x": {"field": "hi", "type": "quantitative", "title": "Incidence rate ratio (IRR)"}}},
        {"mark": {"type": "point", "shape": "square", "size": 256, "filled": true, "color": "black", "opacity": 1}, "encoding": {"x": {"field": "irr", "type": "quantitative", "title": "Incidence rate ratio (IRR)"}}}
      ]
    },
    {
      "width": 312, "height": 303,
      "data": {"name": "irr"},
      "transform": [{"filter": "datum.outcome == 'Erythrocytosis' && datum.panel == 'A'"}],
      "mark": {"type": "text"},
      "encoding": {
        "x": {"datum": 0, "type": "quantitative", "scale": {"domain": [0, 1], "range": [20, 192]}, "axis": {"orient": "top", "title": "IRR (95% CI)", "offset": 11}},
        "y": {"field": "period", "type": "nominal", "scale": {"type": "point", "domain": ["Metformin only", "Pre-SGLT2i", "Metformin & SGLT2i", "SGLT2i only"], "range": [42, 242], "padding": 0}, "axis": null},
        "text": {"field": "label"}
      }
    },
    {
      "width": 510, "height": 303,
      "title": {"text": "Erythrocytosis", "anchor": "start", "align": "center", "baseline": "middle", "frame": "group", "dx": -47, "offset": 53},
      "data": {"name": "irr"},
      "transform": [{"filter": "datum.outcome == 'Erythrocytosis' && datum.panel == 'B'"}],
      "encoding": {"y": {"field": "period", "type": "nominal", "scale": {"type": "point", "domain": ["Metformin only", "Pre-SGLT2i", "Metformin & SGLT2i", "SGLT2i only"], "range": [52, 242], "padding": 0}, "axis": null}},
      "layer": [
        {"data": {"values": [{}]}, "mark": {"type": "rule", "color": "black", "strokeWidth": 1.5, "strokeDash": [6, 4]}, "encoding": {"x": {"datum": 1, "type": "quantitative", "scale": {"domain": [0, 2], "range": [15, 470], "nice": false, "zero": false}, "axis": {"orient": "bottom", "title": "Incidence rate ratio (IRR)", "values": [0, 1, 2], "format": "d"}}, "y": null}},
        {"transform": [{"filter": "isValid(datum.lo)"}], "mark": {"type": "rule", "color": "#555555", "strokeWidth": 3}, "encoding": {"x": {"field": "lo", "type": "quantitative", "title": "Incidence rate ratio (IRR)"}, "x2": {"field": "hi"}}},
        {"transform": [{"filter": "isValid(datum.lo)"}], "mark": {"type": "tick", "color": "#555555", "thickness": 2, "size": 11}, "encoding": {"x": {"field": "lo", "type": "quantitative", "title": "Incidence rate ratio (IRR)"}}},
        {"transform": [{"filter": "isValid(datum.hi)"}], "mark": {"type": "tick", "color": "#555555", "thickness": 2, "size": 11}, "encoding": {"x": {"field": "hi", "type": "quantitative", "title": "Incidence rate ratio (IRR)"}}},
        {"mark": {"type": "point", "shape": "square", "size": 256, "filled": true, "color": "black", "opacity": 1}, "encoding": {"x": {"field": "irr", "type": "quantitative", "title": "Incidence rate ratio (IRR)"}}}
      ]
    },
    {
      "width": 220, "height": 303,
      "data": {"name": "irr"},
      "transform": [{"filter": "datum.outcome == 'Erythrocytosis' && datum.panel == 'B'"}],
      "mark": {"type": "text"},
      "encoding": {
        "x": {"datum": 0, "type": "quantitative", "scale": {"domain": [0, 1], "range": [30, 202]}, "axis": {"orient": "top", "title": "IRR (95% CI)", "offset": 11}},
        "y": {"field": "period", "type": "nominal", "scale": {"type": "point", "domain": ["Metformin only", "Pre-SGLT2i", "Metformin & SGLT2i", "SGLT2i only"], "range": [45, 242], "padding": 0}, "axis": null},
        "text": {"field": "label"}
      }
    }
  ]
}
